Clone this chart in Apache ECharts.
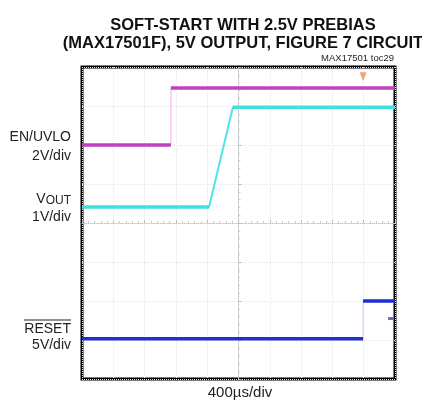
<!DOCTYPE html>
<html>
<head>
<meta charset="utf-8">
<script src="https://cdn.jsdelivr.net/npm/echarts@6/dist/echarts.min.js"></script>
<style>
  html, body { margin: 0; padding: 0; background: #fff; }
  #chart { width: 422px; height: 406px; }
</style>
</head>
<body>
<div id="chart"></div>
<script>
// scope screen in divisions, centre of screen = (0, 0); 10 x 8 div
const xRange = [-5, 5];
const yRange = [-4, 4];

// traces, [time div, level div]
const enUvlo = [[-5, 2.0], [-2.16, 2.0], [-2.16, 3.46], [5, 3.46]];
const vout = [[-5, 0.41], [-0.94, 0.41], [-0.18, 2.97], [5, 2.97]];
const reset = [[-5, -2.97], [3.98, -2.97], [3.98, -2.0], [5, -2.0]];
const resetDot = [[4.86, -2.45]];
const trigMark = [[3.98, 3.75]];

const titleLines = ['SOFT-START WITH 2.5V PREBIAS', '(MAX17501F), 5V OUTPUT, FIGURE 7 CIRCUIT'];
const tocLabel = 'MAX17501 toc29';
const timeLabel = '400µs/div';

const FONT = '"Liberation Sans", Arial, sans-serif';

const chart = echarts.init(document.getElementById('chart'));

const gridL = 82, gridT = 67, gridW = 313, gridH = 312;

// the flat parts of a trace are drawn thick, the edges thin like on the scope
const levelsOnly = (data) => {
    const out = [];
    data.forEach((p, i) => {
        if (i > 0 && i % 2 === 0) out.push(null);
        out.push(p);
    });
    return out;
};

const edgeSeries = (data, color, width) => ({
    type: 'line', data: data, showSymbol: false, z: 2,
    lineStyle: { color: color, width: width }
});
const levelSeries = (name, data, color) => ({
    name: name, type: 'line', data: levelsOnly(data), showSymbol: false, connectNulls: false, z: 3,
    lineStyle: { color: color, width: 3.5 }
});

const option = {
    animation: false,
    backgroundColor: '#fff',
    grid: {
        left: gridL, top: gridT, width: gridW, height: gridH,
        show: true, borderColor: '#000', borderWidth: 3, backgroundColor: '#fff'
    },
    title: [
        {
            text: titleLines.join('\n'),
            left: 238, top: 11, textAlign: 'center',
            textStyle: { fontFamily: FONT, fontWeight: 'bold', fontSize: 16.5, lineHeight: 18, color: '#111' }
        }
    ],
    xAxis: {
        type: 'value', min: xRange[0], max: xRange[1], interval: 1,
        axisLabel: { show: false },
        axisLine: { onZero: true, lineStyle: { color: '#c8c8c8', width: 1, type: 'dotted' } },
        axisTick: { show: true, inside: true, length: 3, lineStyle: { color: '#bbb' } },
        minorTick: { show: true, splitNumber: 5, length: 2, lineStyle: { color: '#ccc' } },
        splitLine: { show: true, lineStyle: { color: '#e6e6e6', type: 'dotted', width: 1 } }
    },
    yAxis: {
        type: 'value', min: yRange[0], max: yRange[1], interval: 1,
        axisLabel: { show: false },
        axisLine: { onZero: true, lineStyle: { color: '#c8c8c8', width: 1, type: 'dotted' } },
        axisTick: { show: true, inside: true, length: 3, lineStyle: { color: '#bbb' } },
        minorTick: { show: true, splitNumber: 5, length: 2, lineStyle: { color: '#ccc' } },
        splitLine: { show: true, lineStyle: { color: '#e6e6e6', type: 'dotted', width: 1 } }
    },
    series: [
        edgeSeries(enUvlo, '#f0b0f0', 1),
        levelSeries('EN/UVLO', enUvlo, '#c040c0'),
        edgeSeries(vout, '#50e4e4', 2),
        levelSeries('VOUT', vout, '#40e0e0'),
        edgeSeries(reset, '#c8ccf4', 1),
        levelSeries('RESET', reset, '#1f2fd0'),
        {
            type: 'scatter', data: resetDot, symbol: 'rect', symbolSize: [5, 3],
            itemStyle: { color: '#3a4aa8' }, z: 4
        },
        {
            type: 'scatter', data: trigMark, symbol: 'triangle', symbolRotate: 180, symbolSize: [7, 9],
            itemStyle: { color: '#ec9050' }, z: 4
        }
    ],
    graphic: [
        { type: 'text', right: 422 - 394, top: 53, style: { text: tocLabel, font: '9.5px ' + FONT, fill: '#222' } },
        { type: 'text', x: 71, y: 137, style: { text: 'EN/UVLO', font: '14px ' + FONT, fill: '#222', align: 'right', verticalAlign: 'middle' } },
        { type: 'text', x: 71, y: 156, style: { text: '2V/div', font: '14px ' + FONT, fill: '#222', align: 'right', verticalAlign: 'middle' } },
        {
            type: 'text', x: 71, y: 199,
            style: {
                text: '{v|V}{s|OUT}', align: 'right', verticalAlign: 'middle',
                rich: {
                    v: { font: '14px ' + FONT, fill: '#222' },
                    s: { font: '12px ' + FONT, fill: '#222', padding: [3, 0, 0, 0] }
                }
            }
        },
        { type: 'text', x: 71, y: 217, style: { text: '1V/div', font: '14px ' + FONT, fill: '#222', align: 'right', verticalAlign: 'middle' } },
        { type: 'text', x: 71, y: 329, style: { text: 'RESET', font: '14px ' + FONT, fill: '#222', align: 'right', verticalAlign: 'middle' } },
        { type: 'line', shape: { x1: 24, y1: 320, x2: 71, y2: 320 }, style: { stroke: '#222', lineWidth: 1 } },
        { type: 'text', x: 71, y: 345, style: { text: '5V/div', font: '14px ' + FONT, fill: '#222', align: 'right', verticalAlign: 'middle' } },
        { type: 'text', x: 240, y: 393, style: { text: timeLabel, font: '15px ' + FONT, fill: '#222', align: 'center', verticalAlign: 'middle' } }
    ]
};

chart.setOption(option);
</script>
</body>
</html>
